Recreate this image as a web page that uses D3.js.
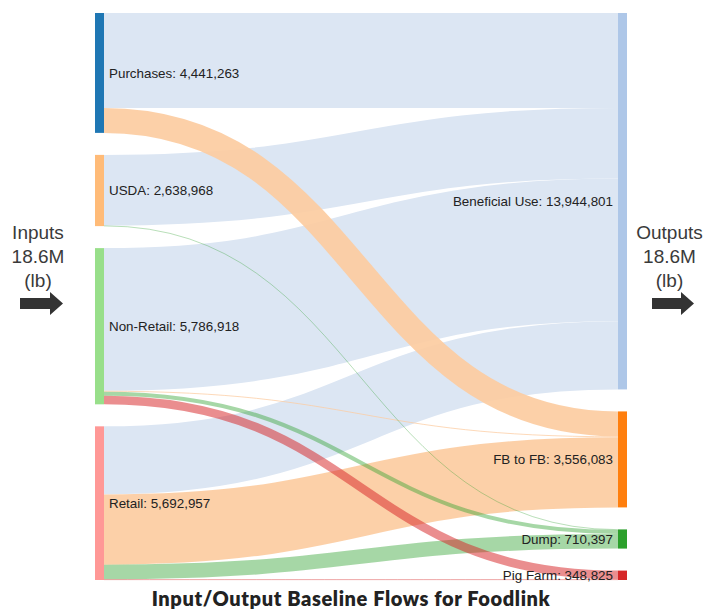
<!DOCTYPE html>
<html>
<head>
<meta charset="utf-8">
<script src="https://cdn.jsdelivr.net/npm/d3@7"></script>
<style>
  html, body { margin: 0; padding: 0; background: #fff; }
  svg { display: block; }
</style>
</head>
<body>
<svg id="chart" width="705" height="612"></svg>
<script>
// ---- data ----
const inputs = ["Purchases", "USDA", "Non-Retail", "Retail"];
const outputs = ["Beneficial Use", "FB to FB", "Dump", "Pig Farm"];
const inputColors = ["#1f77b4", "#ffbb78", "#98df8a", "#ff9896"];
const outputColors = ["#aec7e8", "#ff7f0e", "#2ca02c", "#d62728"];
const linkColors = ["#dce6f3", "#fccca1", "#2ca02c", "#d62728"];
const linkOpacity = [1, 0.92, 0.42, 0.52];
// flows[i][j]: input i -> output j (lb)
const fromPurchases = [3516263, 925000, 0, 0];
const fromUSDA = [2618968, 0, 20000, 0];
const fromNonRetail = [5286918, 30000, 150000, 320000];
const fromRetail = [2522652, 2601083, 540397, 28825];
const flows = [fromPurchases, fromUSDA, fromNonRetail, fromRetail];
const title = "Input/Output Baseline Flows for Foodlink";
const sideTotal = "18.6M";

// ---- layout ----
const svg = d3.select("#chart");
const y0 = 13, y1 = 580, pad = 22, nodeW = 9;
const xLeft = 95, xRight = 618;
const fmt = d3.format(",");

const inTotals = flows.map(r => d3.sum(r));
const outTotals = outputs.map((_, j) => d3.sum(flows, r => r[j]));
const grand = d3.sum(inTotals);
const ky = d3.scaleLinear().domain([0, grand]).range([0, (y1 - y0) - pad * (inputs.length - 1)]);

function stack(vals) {
  let y = y0;
  return vals.map(v => { const n = { y0: y, y1: y + ky(v) }; y = n.y1 + pad; return n; });
}
const inNodes = stack(inTotals).map((n, i) => Object.assign(n, { name: inputs[i], value: inTotals[i], color: inputColors[i] }));
const outNodes = stack(outTotals).map((n, j) => Object.assign(n, { name: outputs[j], value: outTotals[j], color: outputColors[j] }));

// link offsets
const links = [];
flows.forEach((row, i) => row.forEach((v, j) => { if (v > 0) links.push({ i, j, value: v, w: ky(v) }); }));
inNodes.forEach((n, i) => {
  let y = n.y0;
  links.filter(l => l.i === i).sort((a, b) => a.j - b.j).forEach(l => { l.sy = y + l.w / 2; y += l.w; });
});
outNodes.forEach((n, j) => {
  let y = n.y0;
  links.filter(l => l.j === j).sort((a, b) => a.i - b.i).forEach(l => { l.ty = y + l.w / 2; y += l.w; });
});
// draw order: by target category (blue first, red last)
links.sort((a, b) => a.j - b.j || a.i - b.i);

const linkGen = d3.linkHorizontal();
svg.append("g").attr("fill", "none")
  .selectAll("path").data(links).join("path")
  .attr("d", l => linkGen({ source: [xLeft + nodeW, l.sy], target: [xRight, l.ty] }))
  .attr("stroke", l => linkColors[l.j])
  .attr("stroke-opacity", l => linkOpacity[l.j])
  .attr("stroke-width", l => Math.max(0.8, l.w));

// nodes
svg.append("g").selectAll("rect").data(inNodes).join("rect")
  .attr("x", xLeft).attr("y", d => d.y0).attr("width", nodeW)
  .attr("height", d => d.y1 - d.y0).attr("fill", d => d.color);
svg.append("g").selectAll("rect").data(outNodes).join("rect")
  .attr("x", xRight).attr("y", d => d.y0).attr("width", nodeW)
  .attr("height", d => d.y1 - d.y0).attr("fill", d => d.color);

// labels
const lab = svg.append("g").attr("font-family", "Liberation Sans, Arial, sans-serif")
  .attr("font-size", 13.4).attr("fill", "#222");
lab.selectAll("text.in").data(inNodes).join("text").attr("class", "in")
  .attr("x", xLeft + nodeW + 5).attr("y", d => (d.y0 + d.y1) / 2).attr("dy", "0.35em")
  .text(d => `${d.name}: ${fmt(d.value)}`);
lab.selectAll("text.out").data(outNodes).join("text").attr("class", "out")
  .attr("x", xRight - 5).attr("y", d => (d.y0 + d.y1) / 2).attr("dy", "0.35em")
  .attr("text-anchor", "end")
  .text(d => `${d.name}: ${fmt(d.value)}`);

// side annotations
function side(cx, word, ax0, ax1) {
  const g = svg.append("g").attr("font-family", "Liberation Sans, Arial, sans-serif")
    .attr("font-size", 19).attr("fill", "#3a3a3a").attr("text-anchor", "middle");
  [word, sideTotal, "(lb)"].forEach((t, k) => g.append("text").attr("x", cx).attr("y", 239 + k * 24).text(t));
  const headX = ax1 - 13;
  svg.append("path")
    .attr("d", `M${ax0},298 L${headX},298 L${headX},292 L${ax1},303.5 L${headX},315 L${headX},309 L${ax0},309 Z`)
    .attr("fill", "#333");
}
side(38, "Inputs", 20, 63);
side(669.5, "Outputs", 652, 694);

svg.append("text").attr("x", 351).attr("y", 606).attr("text-anchor", "middle")
  .attr("font-family", "Lato, sans-serif").attr("font-weight", 800).attr("font-size", 20)
  .attr("letter-spacing", 0.6)
  .attr("fill", "#222").text(title);
</script>
</body>
</html>
